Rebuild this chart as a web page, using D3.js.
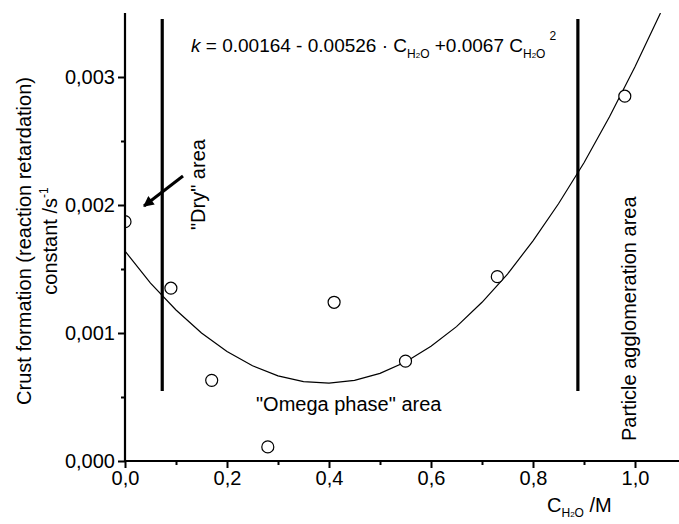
<!DOCTYPE html>
<html>
<head>
<meta charset="utf-8">
<script src="https://cdn.jsdelivr.net/npm/d3@7/dist/d3.min.js"></script>
<style>
    body { margin: 0; background: #ffffff; }
    svg { display: block; font-family: "Liberation Sans", Arial, sans-serif; }
</style>
</head>
<body>
<div id="chart"></div>
<script>
// measured points (water concentration / M, k / s^-1)
const water_conc = [0.0, 0.09, 0.17, 0.28, 0.41, 0.55, 0.73, 0.98];
const crust_k = [0.00187, 0.00135, 0.00063, 0.00011, 0.00124, 0.00078, 0.00144, 0.00285];

// fitted curve
const fit_x = [0.0, 0.05, 0.1, 0.15, 0.2, 0.25, 0.3, 0.35, 0.4, 0.45, 0.5, 0.55,
               0.6, 0.65, 0.7, 0.75, 0.8, 0.85, 0.9, 0.95, 1.0, 1.05];
const fit_k = [0.00164, 0.00139, 0.00118, 0.00100, 0.000856, 0.000744, 0.000665, 0.00062,
               0.000608, 0.00063, 0.000685, 0.000774, 0.000896, 0.00105, 0.00124, 0.00146,
               0.00172, 0.00201, 0.00233, 0.00269, 0.00308, 0.0035];

const x_ticks = [0.0, 0.2, 0.4, 0.6, 0.8, 1.0];
const x_minor = [0.1, 0.3, 0.5, 0.7, 0.9];
const y_ticks = [0.000, 0.001, 0.002, 0.003];
const y_minor = [0.0005, 0.0015, 0.0025];

// region boundaries
const boundaries = [0.073, 0.888];

(function() {
    let width = 679,
        height = 524,
        left = 125,
        right = 686,
        top = 13,
        bottom = 461,
        font_size = 20;

    let svg = d3.select('#chart').append('svg')
        .attr('width', width)
        .attr('height', height);

    let x = d3.scaleLinear().domain([0, 1.1]).range([left, right]),
        y = d3.scaleLinear().domain([0, 0.0035]).range([bottom, top]);

    let comma = (fmt) => (d) => d3.format(fmt)(d).replace('.', ',');

    let defs = svg.append('defs');
    defs.append('clipPath')
        .attr('id', 'plot-clip')
        .append('rect')
        .attr('x', left)
        .attr('y', top)
        .attr('width', right - left)
        .attr('height', bottom - top);

    let plot = svg.append('g').attr('clip-path', 'url(#plot-clip)');

    // fitted curve
    plot.append('path')
        .datum(fit_x.map((d, i) => [d, fit_k[i]]))
        .attr('fill', 'none')
        .attr('stroke', '#000')
        .attr('stroke-width', 1.2)
        .attr('d', d3.line().x((d) => x(d[0])).y((d) => y(d[1])));

    // region lines
    svg.selectAll('.boundary')
        .data(boundaries)
        .enter().append('line')
        .attr('class', 'boundary')
        .attr('x1', (d) => x(d))
        .attr('x2', (d) => x(d))
        .attr('y1', 19)
        .attr('y2', 391)
        .attr('stroke', '#000')
        .attr('stroke-width', 3.2);

    // data points
    plot.selectAll('circle')
        .data(water_conc.map((d, i) => [d, crust_k[i]]))
        .enter().append('circle')
        .attr('cx', (d) => x(d[0]))
        .attr('cy', (d) => y(d[1]))
        .attr('r', 6)
        .attr('fill', '#fff')
        .attr('stroke', '#000')
        .attr('stroke-width', 1.2);

    // axes
    let xaxis = svg.append('g')
        .attr('class', 'x-axis')
        .attr('transform', 'translate(0,' + bottom + ')');
    xaxis.call(d3.axisBottom(x).tickValues(x_ticks).tickSize(7).tickPadding(3).tickFormat(comma('.1f')));
    xaxis.append('g').call(d3.axisBottom(x).tickValues(x_minor).tickSize(4).tickFormat(''))
        .select('.domain').remove();

    let yaxis = svg.append('g')
        .attr('class', 'y-axis')
        .attr('transform', 'translate(' + left + ',0)');
    yaxis.call(d3.axisLeft(y).tickValues(y_ticks).tickSize(7).tickPadding(3).tickFormat(comma('.3f')));
    yaxis.append('g').call(d3.axisLeft(y).tickValues(y_minor).tickSize(4).tickFormat(''))
        .select('.domain').remove();

    xaxis.select('.domain').attr('d', 'M' + left + ',0H' + right).attr('stroke-width', 2.2);
    yaxis.select('.domain').attr('d', 'M0,' + top + 'V' + bottom).attr('stroke-width', 2.2);
    svg.selectAll('.tick line').attr('stroke-width', 2);
    svg.selectAll('.tick text')
        .attr('font-family', '"Liberation Sans", Arial, sans-serif')
        .attr('font-size', font_size)
        .attr('fill', '#000');

    // axis titles
    let ylab = svg.append('g')
        .attr('font-size', font_size)
        .attr('text-anchor', 'middle')
        .attr('transform', 'translate(0,241) rotate(-90)');
    ylab.append('text')
        .attr('y', 31)
        .text('Crust formation (reaction retardation)');
    let ylab2 = ylab.append('text')
        .attr('y', 57);
    ylab2.append('tspan').text('constant /s');
    ylab2.append('tspan').attr('font-size', 12).attr('dy', -9).text('-1');

    let xlab = svg.append('text')
        .attr('x', 547)
        .attr('y', 512)
        .attr('font-size', font_size);
    xlab.append('tspan').text('C');
    xlab.append('tspan').attr('font-size', 12).attr('dy', 5).text('H');
    xlab.append('tspan').attr('font-size', 8).text('2');
    xlab.append('tspan').attr('font-size', 12).text('O');
    xlab.append('tspan').attr('dy', -5).text(' /M');

    // fit equation
    let eq = svg.append('text')
        .attr('x', 191)
        .attr('y', 52)
        .attr('font-size', 19);
    eq.append('tspan').attr('font-style', 'italic').text('k');
    eq.append('tspan').text(' = 0.00164 - 0.00526 \u00b7 C');
    eq.append('tspan').attr('font-size', 12).attr('dy', 6).text('H');
    eq.append('tspan').attr('font-size', 8).text('2');
    eq.append('tspan').attr('font-size', 12).text('O');
    eq.append('tspan').attr('dy', -6).text(' +0.0067 C');
    eq.append('tspan').attr('font-size', 12).attr('dy', 6).text('H');
    eq.append('tspan').attr('font-size', 8).text('2');
    eq.append('tspan').attr('font-size', 12).text('O');
    eq.append('tspan').attr('font-size', 12).attr('dx', 4).attr('dy', -18).text('2');

    // region labels
    svg.append('text')
        .attr('x', 256)
        .attr('y', 411)
        .attr('font-size', font_size)
        .text('"Omega phase" area');

    svg.append('text')
        .attr('font-size', font_size)
        .attr('transform', 'translate(205,230) rotate(-90)')
        .text('"Dry" area');

    svg.append('text')
        .attr('font-size', font_size)
        .attr('transform', 'translate(636,441) rotate(-90)')
        .text('Particle agglomeration area');

    // arrow toward the dry area
    defs.append('marker')
        .attr('id', 'head')
        .attr('viewBox', '0 0 10 10')
        .attr('refX', 9)
        .attr('refY', 5)
        .attr('markerWidth', 4)
        .attr('markerHeight', 3.5)
        .attr('orient', 'auto')
        .append('path')
        .attr('d', 'M0,0L10,5L0,10Z')
        .attr('fill', '#000');

    svg.append('line')
        .attr('x1', 183)
        .attr('y1', 176)
        .attr('x2', 144)
        .attr('y2', 206)
        .attr('stroke', '#000')
        .attr('stroke-width', 3)
        .attr('marker-end', 'url(#head)');
}());
</script>
</body>
</html>
